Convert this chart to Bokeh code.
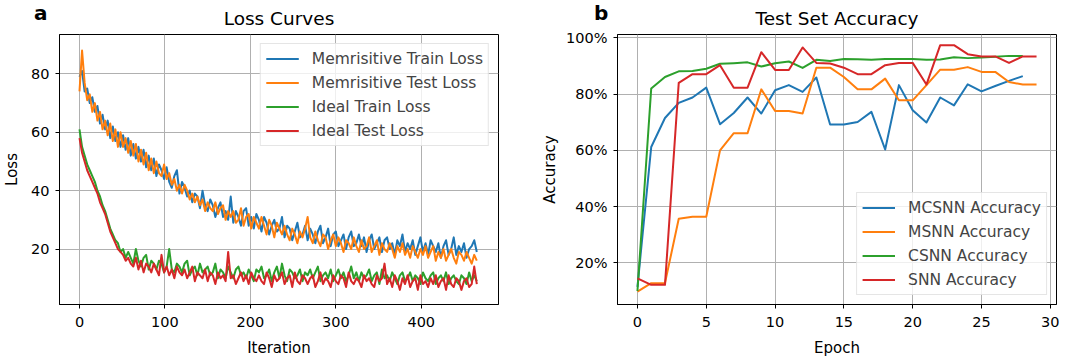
from bokeh.plotting import figure
from bokeh.layouts import row, column
from bokeh.models import Range1d, FixedTicker, PrintfTickFormatter, Div
from bokeh.embed import file_html
from bokeh.resources import INLINE

# ---------------- data: loss curves (sampled every 3 iterations) ----------------
iterations = list(range(0, 466, 3))

mem_train = [79, 81, 74, 75, 70, 72, 67, 69, 63, 66,
             61, 64, 58, 62, 57, 60, 55, 59, 54, 58,
             52, 56, 51, 55, 50, 54, 48, 52, 47, 51,
             45, 49, 47, 44, 48, 43, 41, 45, 47, 39,
             43, 41, 38, 40, 36, 39, 38, 34, 40, 35,
             33, 37, 35, 31, 34, 36, 31, 33, 30, 38,
             29, 33, 31, 28, 33, 34, 28, 31, 27, 32,
             30, 26, 31, 29, 25, 28, 30, 26, 27, 31,
             24, 28, 27, 23, 26, 29, 24, 25, 28, 23,
             27, 25, 22, 26, 28, 22, 24, 27, 21, 25,
             26, 21, 23, 25, 20, 24, 26, 21, 22, 25,
             21, 24, 19, 23, 25, 20, 22, 24, 19, 23,
             24, 20, 22, 18, 23, 21, 25, 19, 22, 20,
             23, 18, 21, 24, 19, 22, 18, 23, 21, 19,
             22, 17, 21, 23, 18, 20, 24, 18, 21, 19,
             22, 17, 20, 21, 23, 19]

mem_test = [74, 88, 77, 71, 73, 67, 70, 64, 67, 61,
            64, 59, 63, 57, 61, 55, 60, 55, 58, 53,
            57, 52, 56, 50, 54, 49, 53, 47, 51, 46,
            50, 46, 45, 49, 44, 46, 42, 44, 40, 42,
            39, 42, 40, 37, 39, 36, 38, 35, 37, 33,
            36, 34, 33, 36, 32, 34, 35, 30, 33, 31,
            33, 29, 30, 34, 28, 31, 32, 27, 31, 29,
            27, 31, 28, 25, 30, 28, 24, 29, 27, 25,
            28, 25, 23, 27, 25, 22, 26, 24, 27, 31,
            24, 22, 26, 23, 21, 25, 24, 20, 23, 25,
            21, 24, 22, 19, 23, 22, 20, 24, 21, 19,
            23, 20, 21, 24, 19, 21, 23, 18, 22, 20,
            19, 22, 20, 17, 21, 19, 22, 18, 20, 17,
            21, 19, 17, 20, 18, 21, 17, 19, 21, 16,
            19, 17, 20, 16, 18, 20, 17, 15, 19, 18,
            16, 19, 17, 15, 18, 16]

ideal_train = [61, 55, 52, 49, 47, 45, 43, 40, 38, 35,
               33, 30, 27, 25, 23, 22, 19, 20, 17, 19,
               17, 15, 20, 16, 14, 17, 18, 13, 16, 15,
               13, 16, 15, 12, 14, 20, 13, 12, 15, 14,
               12, 15, 16, 11, 13, 14, 11, 15, 12, 13,
               14, 11, 12, 15, 10, 13, 12, 10, 14, 12,
               10, 13, 14, 11, 12, 10, 13, 11, 9, 13,
               12, 14, 10, 11, 13, 9, 12, 14, 10, 15,
               11, 9, 13, 12, 10, 11, 13, 9, 12, 11,
               13, 10, 12, 14, 9, 11, 12, 10, 13, 9,
               11, 13, 10, 12, 9, 11, 14, 10, 12, 9,
               12, 10, 11, 13, 9, 11, 12, 8, 13, 10,
               11, 9, 12, 10, 8, 11, 12, 9, 10, 12,
               9, 11, 10, 8, 12, 10, 9, 11, 12, 8,
               10, 11, 9, 12, 8, 10, 11, 9, 8, 11,
               10, 8, 12, 9, 11, 9]

ideal_test = [58, 53, 50, 47, 45, 43, 41, 39, 36, 34,
              32, 29, 26, 24, 22, 20, 19, 18, 16, 17,
              15, 14, 17, 13, 16, 12, 15, 14, 12, 15,
              13, 11, 18, 12, 14, 11, 13, 10, 14, 12,
              11, 13, 10, 12, 14, 9, 12, 11, 10, 13,
              9, 12, 11, 8, 12, 10, 11, 9, 19, 10,
              11, 8, 10, 12, 9, 11, 8, 12, 10, 9,
              11, 9, 8, 12, 10, 7, 11, 9, 10, 12,
              8, 10, 11, 7, 12, 9, 8, 11, 10, 8,
              10, 11, 7, 9, 12, 8, 10, 9, 7, 11,
              9, 8, 11, 10, 7, 12, 9, 8, 10, 9,
              7, 11, 9, 10, 8, 7, 11, 9, 10, 15,
              8, 10, 7, 11, 9, 6, 10, 8, 11, 7,
              9, 10, 6, 11, 8, 9, 7, 10, 8, 11,
              7, 9, 10, 6, 11, 8, 7, 10, 9, 6,
              9, 10, 7, 8, 14, 8]

# ---------------- data: test set accuracy (%) ----------------
epochs_mcsnn = list(range(29))
epochs_msnn = list(range(30))
epochs_csnn = list(range(29))
epochs_snn = list(range(30))

mcsnn = [11.5, 61.2, 71.5, 76.9, 78.8, 82.3, 69.3, 73.3, 78.8, 73.1,
         81.4, 83.2, 80.8, 85.9, 69.2, 69.2, 70.1, 73.7, 60.3, 83.2,
         74.3, 69.9, 78.8, 76.0, 83.5, 81.0, 82.9, 84.7, 86.4]
msnn = [9.8, 12.8, 12.8, 35.7, 36.4, 36.4, 60.0, 66.1, 66.1, 81.7,
        74.0, 74.0, 73.1, 89.4, 89.4, 86.1, 81.7, 81.7, 85.5, 77.8,
        77.8, 83.2, 88.7, 88.7, 89.6, 87.9, 87.9, 84.3, 83.4, 83.4]
csnn = [10.0, 82.0, 86.1, 88.1, 88.2, 89.0, 90.8, 91.0, 91.3, 89.8,
        91.0, 91.6, 89.3, 92.2, 91.8, 92.5, 92.4, 92.2, 92.5, 92.5,
        92.5, 92.2, 92.3, 93.1, 92.8, 93.0, 93.3, 93.6, 93.6]
snn = [14.5, 12.2, 12.2, 84.0, 87.1, 87.1, 90.3, 82.3, 82.3, 94.9,
       88.6, 88.6, 96.6, 91.1, 90.9, 89.4, 87.1, 87.1, 90.3, 91.1,
       91.1, 83.4, 97.4, 97.4, 94.2, 93.4, 93.4, 91.1, 93.4, 93.4]

loss_xticks = [0, 100, 200, 300, 400]
loss_yticks = [20, 40, 60, 80]
acc_xticks = [0, 5, 10, 15, 20, 25, 30]
acc_yticks = [20, 40, 60, 80, 100]

C = ["#1f77b4", "#ff7f0e", "#2ca02c", "#d62728"]
FONT = "DejaVu Sans"


def style(p, title, ylabel_standoff):
    p.title.text = title
    p.title.align = "center"
    p.title.text_font = FONT
    p.title.text_font_size = "18.5px"
    p.title.text_font_style = "normal"
    p.title.text_color = "#000000"
    p.title.standoff = 11
    p.outline_line_color = "black"
    p.outline_line_width = 1
    p.outline_line_alpha = 1
    for ax in list(p.xaxis) + list(p.yaxis):
        ax.axis_line_color = "black"
        ax.major_tick_line_color = "black"
        ax.major_tick_out = 4
        ax.major_tick_in = 0
        ax.minor_tick_line_color = None
        ax.major_label_text_font = FONT
        ax.major_label_text_font_size = "14.5px"
        ax.major_label_text_color = "#000000"
        ax.axis_label_text_font = FONT
        ax.axis_label_text_font_size = "15px"
        ax.axis_label_text_font_style = "normal"
        ax.axis_label_text_color = "#000000"
        ax.major_label_standoff = 6
    p.yaxis.axis_label_standoff = ylabel_standoff
    p.xaxis.major_label_standoff = 8
    p.xaxis.axis_label_standoff = 9
    p.grid.grid_line_color = "#b0b0b0"
    p.grid.grid_line_width = 1
    p.legend.label_text_font = FONT
    p.legend.label_text_font_size = "15.5px"
    p.legend.glyph_width = 33
    p.legend.glyph_height = 19
    p.legend.label_height = 19
    p.legend.label_standoff = 13
    p.legend.spacing = 5
    p.legend.padding = 5
    p.legend.margin = 9
    p.legend.border_line_color = "#cccccc"
    p.legend.border_line_width = 1
    p.legend.background_fill_alpha = 0.8


# ---------------- panel a ----------------
p1 = figure(width=538, height=364, output_backend="svg", toolbar_location=None,
            x_range=Range1d(-23.4, 490.4), y_range=Range1d(1.0, 93.5),
            min_border_left=59, min_border_right=40, min_border_top=33, min_border_bottom=60)
p1.line(iterations, mem_train, color=C[0], line_width=2, line_join="round", legend_label="Memrisitive Train Loss")
p1.line(iterations, mem_test, color=C[1], line_width=2, line_join="round", legend_label="Memrisitive Test Loss")
p1.line(iterations, ideal_train, color=C[2], line_width=2, line_join="round", legend_label="Ideal Train Loss")
p1.line(iterations, ideal_test, color=C[3], line_width=2, line_join="round", legend_label="Ideal Test Loss")
p1.xaxis.ticker = FixedTicker(ticks=loss_xticks)
p1.yaxis.ticker = FixedTicker(ticks=loss_yticks)
p1.xaxis.axis_label = "Iteration"
p1.yaxis.axis_label = "Loss"
style(p1, "Loss Curves", 7)
p1.legend.location = "top_right"

# ---------------- panel b ----------------
p2 = figure(width=542, height=364, output_backend="svg", toolbar_location=None,
            x_range=Range1d(-1.45, 30.45), y_range=Range1d(5.2, 101.2),
            min_border_left=79, min_border_right=24, min_border_top=34, min_border_bottom=60)
p2.line(epochs_mcsnn, mcsnn, color=C[0], line_width=2, line_join="round", legend_label="MCSNN Accuracy")
p2.line(epochs_msnn, msnn, color=C[1], line_width=2, line_join="round", legend_label="MSNN Accuracy")
p2.line(epochs_csnn, csnn, color=C[2], line_width=2, line_join="round", legend_label="CSNN Accuracy")
p2.line(epochs_snn, snn, color=C[3], line_width=2, line_join="round", legend_label="SNN Accuracy")
p2.xaxis.ticker = FixedTicker(ticks=acc_xticks)
p2.yaxis.ticker = FixedTicker(ticks=acc_yticks)
p2.yaxis.formatter = PrintfTickFormatter(format="%d%%")
p2.xaxis.axis_label = "Epoch"
p2.yaxis.axis_label = "Accuracy"
style(p2, "Test Set Accuracy", 4)
p2.legend.location = "bottom_right"

# ---------------- panel letters ----------------
letter_style = {"position": "absolute", "top": "1px", "font-family": "DejaVu Sans",
                "font-size": "20px", "font-weight": "bold", "line-height": "normal",
                "color": "#000000", "margin": "0", "padding": "0", "z-index": "10"}
div_a = Div(text="a", width=24, height=28, styles=dict(letter_style, left="34px"))
div_b = Div(text="b", width=24, height=28, styles=dict(letter_style, left="594px"))

layout = column(row(p1, p2), div_a, div_b)
open("out.html", "w").write(file_html(layout, INLINE))
